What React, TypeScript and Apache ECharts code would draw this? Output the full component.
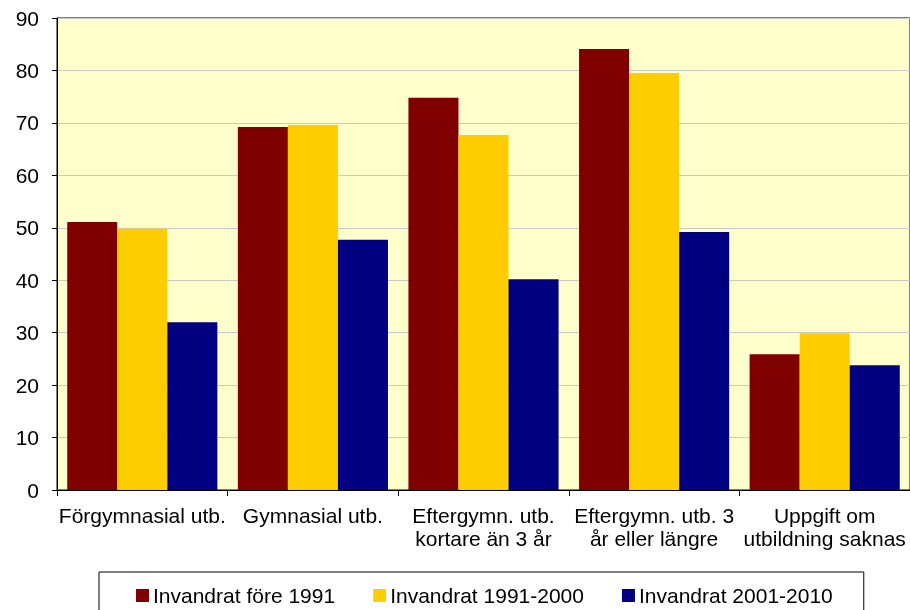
import React, { useEffect, useRef } from "react";
import * as echarts from "echarts";

const categories = [
  "Förgymnasial utb.",
  "Gymnasial utb.",
  "Eftergymn. utb.\nkortare än 3 år",
  "Eftergymn. utb. 3\når eller längre",
  "Uppgift om\nutbildning saknas",
];
const seriesNames = ["Invandrat före 1991", "Invandrat 1991-2000", "Invandrat 2001-2010"];
const fore1991 = [51.1, 69.2, 74.8, 84.1, 25.9];
const v1991_2000 = [49.8, 69.6, 67.7, 79.5, 29.9];
const v2001_2010 = [32.0, 47.7, 40.2, 49.2, 23.8];
const colors = ["#800000", "#FFCC00", "#000080"];

export default function App() {
  const ref = useRef<HTMLDivElement>(null);
  useEffect(() => {
    if (!ref.current) return;
    document.body.style.margin = "0";
    document.body.style.overflow = "hidden";
    const chart = echarts.init(ref.current, undefined, { renderer: "svg" });
    const font = "Liberation Sans, Arial, sans-serif";
    const data = [fore1991, v1991_2000, v2001_2010];
    chart.setOption({
      animation: false,
      textStyle: { fontFamily: font },
      grid: {
        left: 57,
        right: 0,
        top: 18,
        bottom: 120,
        show: true,
        backgroundColor: "#FFFFCC",
        borderColor: "#000",
        borderWidth: 1,
      },
      legend: {
        left: 99,
        top: 572,
        padding: [13, 31, 20, 37],
        itemWidth: 13,
        itemHeight: 13,
        itemGap: 38,
        borderColor: "#000",
        borderWidth: 1,
        icon: "rect",
        textStyle: { fontSize: 21, color: "#000", fontFamily: font, padding: [0, 0, 0, -1] },
        data: seriesNames,
      },
      xAxis: {
        type: "category",
        data: categories,
        axisLine: { lineStyle: { color: "#000", width: 1 } },
        axisTick: { show: true, length: 6, lineStyle: { color: "#000" } },
        axisLabel: {
          interval: 0,
          fontSize: 21,
          color: "#000",
          lineHeight: 23,
          margin: 14,
          fontFamily: font,
        },
      },
      yAxis: {
        type: "value",
        min: 0,
        max: 90,
        interval: 10,
        axisLine: { show: true, lineStyle: { color: "#000", width: 1 } },
        axisTick: { show: true, length: 5, lineStyle: { color: "#000" } },
        axisLabel: { fontSize: 21, color: "#000", margin: 18, fontFamily: font },
        splitLine: { lineStyle: { color: "#C8C8C8", width: 1 } },
      },
      series: seriesNames.map((name, i) => ({
        name,
        type: "bar",
        data: data[i],
        barGap: "0%",
        barCategoryGap: "12%",
        itemStyle: { color: colors[i] },
      })),
    });
    return () => chart.dispose();
  }, []);
  return (
    <div
      ref={ref}
      style={{ position: "fixed", left: 0, top: 0, width: 910, height: 610 }}
    />
  );
}
